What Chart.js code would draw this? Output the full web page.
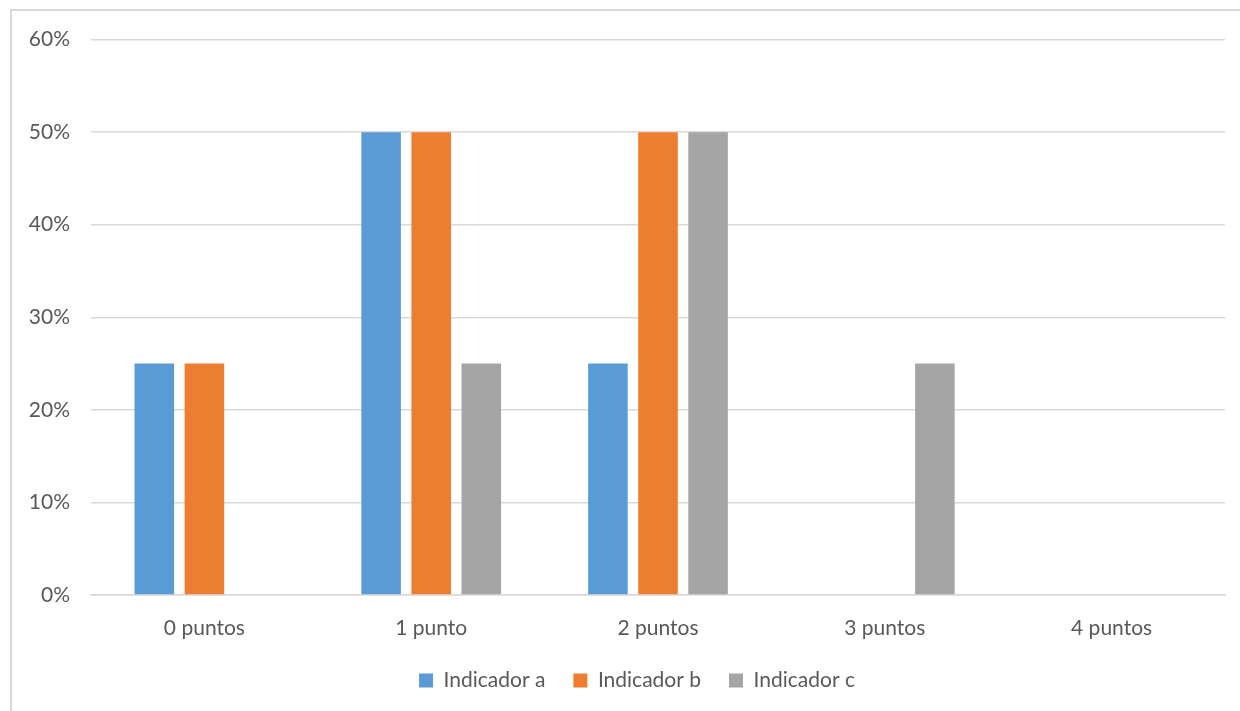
<!DOCTYPE html>
<html>
<head>
<meta charset="utf-8">
<script src="https://cdn.jsdelivr.net/npm/chart.js@4"></script>
<style>
  html, body { margin: 0; padding: 0; background: #ffffff; }
  #frame {
    position: absolute;
    left: 10px; top: 9px;
    width: 1228px; height: 700px;
    border-left: 2px solid #d9d9d9;
    border-top: 2px solid #d9d9d9;
  }
  #chart { position: absolute; left: 12px; top: 6px; display: block; }
</style>
</head>
<body>
<div id="frame"></div>
<canvas id="chart" width="1228" height="705"></canvas>
<script>
// ==============================
// DATA
// ==============================
const categories = ["0 puntos", "1 punto", "2 puntos", "3 puntos", "4 puntos"];
const seriesNames = ["Indicador a", "Indicador b", "Indicador c"];
const indicadorA = [25, 50, 25, 0, 0];
const indicadorB = [25, 50, 50, 0, 0];
const indicadorC = [0, 25, 50, 25, 0];
const yTicks = [0, 10, 20, 30, 40, 50, 60];

const colors = ["#5B9BD5", "#ED7D31", "#A5A5A5"];
const textColor = "#595959";
const fontFamily = "Lato, 'Open Sans', sans-serif";

// legend gets wider spacing but a fixed height, and sits a bit right of centre
const legendHeight = {
  id: "legendHeight",
  afterInit(chart) {
    const fit = chart.legend.fit;
    chart.legend.fit = function () {
      fit.call(this);
      this.height = 59;
    };
  },
  afterLayout(chart) {
    chart.legend.left += 36;
  }
};

// ==============================
// RENDER
// ==============================
const ctx = document.getElementById("chart");

new Chart(ctx, {
  type: "bar",
  data: {
    labels: categories,
    datasets: [indicadorA, indicadorB, indicadorC].map((vals, i) => ({
      label: seriesNames[i],
      data: vals,
      backgroundColor: colors[i],
      borderWidth: 0,
      categoryPercentage: 0.6625,
      barPercentage: 0.79
    }))
  },
  options: {
    responsive: false,
    animation: false,
    layout: { padding: { left: 1, right: 15, top: 23, bottom: 10 } },
    scales: {
      x: {
        grid: { display: false, drawTicks: false },
        border: { display: true, color: "#d9d9d9", width: 1.5 },
        ticks: { color: textColor, font: { family: fontFamily, size: 21 }, padding: 21 },
        afterFit(scale) { scale.height = 47; }
      },
      y: {
        min: 0,
        max: 60,
        afterBuildTicks(scale) { scale.ticks = yTicks.map(v => ({ value: v })); },
        grid: { color: "#d9d9d9", lineWidth: 1.5, drawTicks: false },
        border: { display: false },
        ticks: {
          color: textColor,
          font: { family: fontFamily, size: 21 },
          padding: 21,
          callback: v => v + "%"
        },
        afterFit(scale) { scale.width = 78; }
      }
    },
    plugins: {
      legend: {
        position: "bottom",
        labels: {
          color: textColor,
          font: { family: fontFamily, size: 21 },
          boxWidth: 14,
          boxHeight: 14,
          padding: 28
        }
      },
      tooltip: { enabled: false }
    }
  },
  plugins: [legendHeight]
});
</script>
</body>
</html>
